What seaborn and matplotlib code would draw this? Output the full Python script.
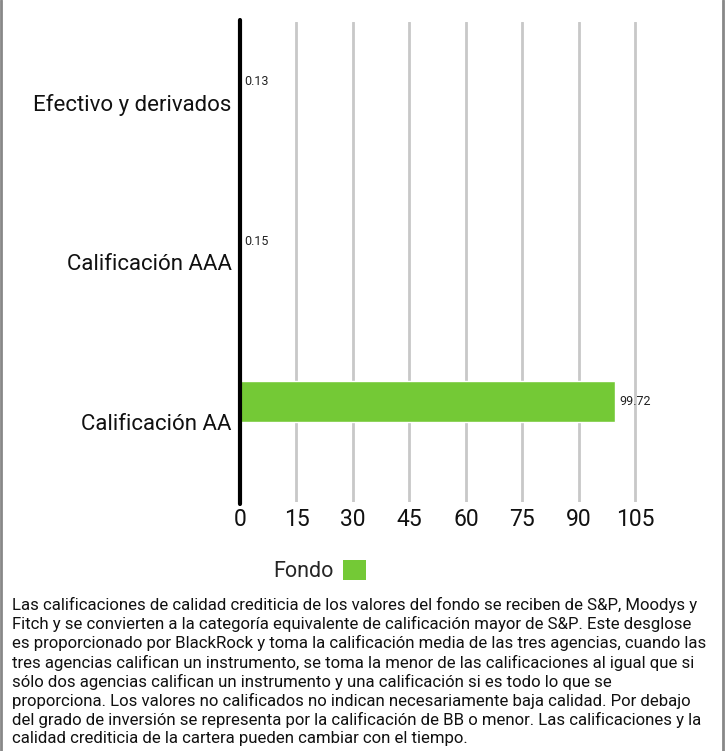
import matplotlib
matplotlib.use("Agg")
import matplotlib.pyplot as plt
from matplotlib.patches import Patch
from matplotlib.lines import Line2D
import seaborn as sns
import pandas as pd

# datos
categorias = ["Efectivo y derivados", "Calificación AAA", "Calificación AA"]
fondo = [0.13, 0.15, 99.72]
ticks_x = [0, 15, 30, 45, 60, 75, 90, 105]
nota = ("Las calificaciones de calidad crediticia de los valores del fondo se reciben de S&P, Moodys y\n"
        "Fitch y se convierten a la categoría equivalente de calificación mayor de S&P. Este desglose\n"
        "es proporcionado por BlackRock y toma la calificación media de las tres agencias, cuando las\n"
        "tres agencias califican un instrumento, se toma la menor de las calificaciones al igual que si\n"
        "sólo dos agencias califican un instrumento y una calificación si es todo lo que se\n"
        "proporciona. Los valores no calificados no indican necesariamente baja calidad. Por debajo\n"
        "del grado de inversión se representa por la calificación de BB o menor. Las calificaciones y la\n"
        "calidad crediticia de la cartera pueden cambiar con el tiempo.")

verde = "#74c936"
df = pd.DataFrame({"categoria": categorias, "valor": fondo})

sns.set_theme(style="white")
plt.rcParams["font.family"] = ["Roboto", "DejaVu Sans"]

W, H = 727, 751
fig = plt.figure(figsize=(W / 100, H / 100), dpi=100)
ax = fig.add_axes([240 / W, 1 - 502 / H, 399 / W, (502 - 22) / H])

sns.barplot(data=df, x="valor", y="categoria", color=verde, width=0.256,
            saturation=1, ax=ax, orient="h")

# barras desplazadas hacia arriba dentro de cada banda
for p in ax.patches:
    p.set_y(p.get_y() - 0.13)

ax.set_xlim(0, 106)
ax.set_ylim(2.5, -0.5)
ax.set_xticks(ticks_x)
ax.set_xticklabels([str(t) for t in ticks_x], fontsize=16.5, color="#111111")
ax.tick_params(axis="x", length=0, pad=4)
ax.tick_params(axis="y", length=0, pad=6)
for lab in ax.get_yticklabels():
    lab.set_fontsize(16)
    lab.set_color("#111111")
ax.set_xlabel("")
ax.set_ylabel("")
ax.grid(axis="x", color="#c8c8c8", linewidth=2)
ax.set_axisbelow(True)
for s in ax.spines.values():
    s.set_visible(False)
ax.axvline(0, color="black", linewidth=3, clip_on=False, ymin=-0.004, ymax=1.004)

for i, v in enumerate(fondo):
    ax.annotate(f"{v:.2f}", xy=(v, i - 0.13), xytext=(3, 0), textcoords="offset points",
                ha="left", va="center", fontsize=9, color="#222222")

# leyenda
handles = [Patch(facecolor=verde, edgecolor="none")]
fig.legend(handles, ["Fondo"], loc="center", bbox_to_anchor=(320 / W, 1 - 571 / H),
           frameon=False, markerfirst=False, fontsize=15.5, handlelength=1.1,
           handleheight=1.1, handletextpad=0.4)

fig.text(12 / W, 1 - 597 / H, nota, ha="left", va="top", fontsize=12.1,
         color="#111111", linespacing=1.24)

# bordes laterales
fig.add_artist(Line2D([1 / W, 1 / W], [0, 1], color="#888888", linewidth=2, transform=fig.transFigure))
fig.add_artist(Line2D([723 / W, 723 / W], [0, 1], color="#888888", linewidth=2, transform=fig.transFigure))

fig.savefig("out.png", dpi=100)
